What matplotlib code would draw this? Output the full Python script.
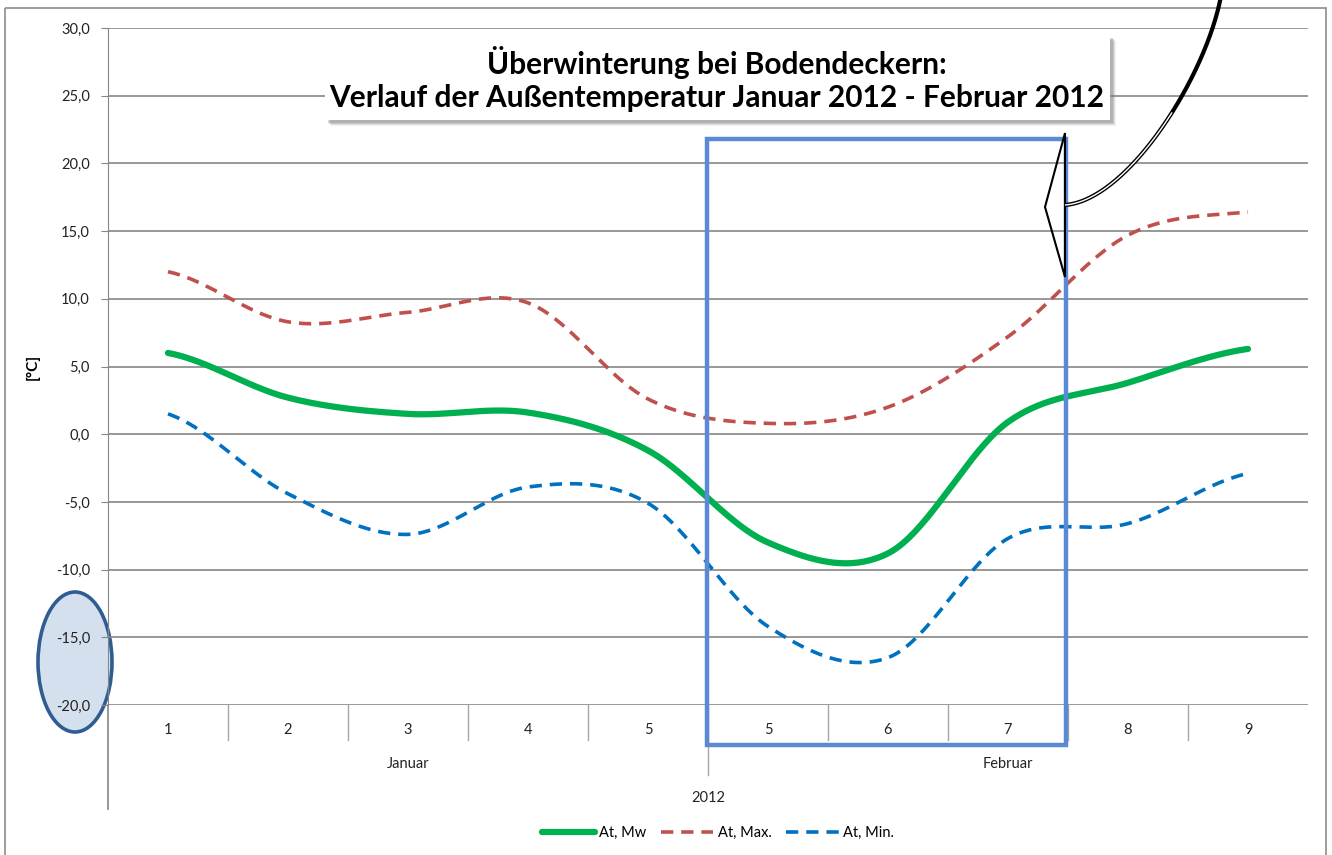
import numpy as np
import matplotlib
matplotlib.use("Agg")
import matplotlib.pyplot as plt
import matplotlib.transforms as mtransforms
from matplotlib.patches import Rectangle, Ellipse, Polygon
from matplotlib.ticker import FuncFormatter, MultipleLocator

plt.rcParams['font.family'] = ['Lato', 'DejaVu Sans']

# Wochen (Kategorien) und Temperaturen in °C
wochen = ["1", "2", "3", "4", "5", "5", "6", "7", "8", "9"]
monate = ["Januar", "Februar"]
jahr = "2012"
at_mw = [6.0, 2.7, 1.5, 1.6, -1.2, -8.0, -8.8, 0.9, 3.8, 6.3]
at_max = [12.0, 8.3, 9.0, 9.7, 2.6, 0.8, 2.0, 7.2, 14.7, 16.4]
at_min = [1.5, -4.4, -7.4, -3.9, -5.1, -14.2, -16.5, -7.7, -6.6, -2.9]


def glatt(werte, n=40):
    # geglättete Linie wie in Excel (Catmull-Rom / Bezier)
    y = np.asarray(werte, dtype=float)
    p = np.concatenate([[y[0]], y, [y[-1]]])
    xs, ys = [], []
    for i in range(len(y) - 1):
        m0 = (p[i + 2] - p[i]) / 2
        m1 = (p[i + 3] - p[i + 1]) / 2
        t = np.linspace(0, 1, n, endpoint=(i == len(y) - 2))
        h00 = 2 * t**3 - 3 * t**2 + 1
        h10 = t**3 - 2 * t**2 + t
        h01 = -2 * t**3 + 3 * t**2
        h11 = t**3 - t**2
        xs.append(i + t)
        ys.append(h00 * y[i] + h10 * m0 + h01 * y[i + 1] + h11 * m1)
    return np.concatenate(xs), np.concatenate(ys)


def bezier(p0, p1, p2, p3, t):
    t = np.asarray(t)[:, None]
    p0, p1, p2, p3 = (np.array(p, dtype=float) for p in (p0, p1, p2, p3))
    return ((1 - t)**3 * p0 + 3 * (1 - t)**2 * t * p1
            + 3 * (1 - t) * t**2 * p2 + t**3 * p3)


W, H = 1332, 855
fig = plt.figure(figsize=(W / 100, H / 100), dpi=100)

# hintere Zeichenebene in Pixeln (Rahmen, Ellipse)
hinten = fig.add_axes([0, 0, 1, 1], zorder=-1)
hinten.set_xlim(0, W)
hinten.set_ylim(H, 0)
hinten.axis('off')
hinten.add_patch(Rectangle((4.5, 8), 1321.5, 860, fill=False, ec='#8c8c8c', lw=1.2, clip_on=False))
hinten.add_patch(Ellipse((75, 662), 74, 140, fc='#d5e0ef', ec='#2f5d92', lw=2.6))

ax = fig.add_axes([108 / W, 1 - 705 / H, 1200 / W, 677 / H])
ax.patch.set_alpha(0)

gitter = '#868686'
ax.set_xlim(-0.5, len(wochen) - 0.5)
ax.set_ylim(-20, 30)
ax.yaxis.set_major_locator(MultipleLocator(5))
ax.yaxis.set_major_formatter(FuncFormatter(lambda v, p: f"{v:.1f}".replace('.', ',')))
ax.grid(axis='y', color=gitter, lw=1.2)
ax.set_axisbelow(True)
for s in ['top', 'right', 'bottom']:
    ax.spines[s].set_visible(False)
ax.spines['left'].set_color(gitter)
ax.spines['left'].set_bounds(-20, 30)
ax.tick_params(axis='y', length=5, color=gitter, labelsize=10.5, pad=8, labelcolor='#222222')
ax.set_xticks(range(len(wochen)))
ax.set_xticklabels(wochen)
ax.tick_params(axis='x', length=0, labelsize=10.5, pad=13, labelcolor='#222222')

ax.set_ylabel("[°C]", fontsize=11, fontweight='bold')
ax.yaxis.set_label_coords(-68 / 1200, 0.5)

x, y = glatt(at_mw)
l_mw, = ax.plot(x, y, color='#00b050', lw=4.5, solid_capstyle='round', label="At, Mw", zorder=3)
x, y = glatt(at_max)
l_max, = ax.plot(x, y, color='#c0504d', lw=2.6, dashes=(3.4, 2.2), label="At, Max.", zorder=3)
x, y = glatt(at_min)
l_min, = ax.plot(x, y, color='#0070c0', lw=2.6, dashes=(3.4, 2.2), label="At, Min.", zorder=3)

# mehrstufige Kategorienachse
trans = mtransforms.blended_transform_factory(ax.transData, ax.transAxes)
for i in range(1, len(wochen)):
    unten = -70 / 677 if i == 5 else -35 / 677
    ax.plot([i - 0.5, i - 0.5], [0, unten], transform=trans, color='#a6a6a6', lw=1, clip_on=False)
ax.plot([-0.5, -0.5], [0, -104 / 677], transform=trans, color=gitter, lw=1.2, clip_on=False)
ax.text(2, -59 / 677, monate[0], transform=trans, ha='center', va='center', fontsize=10.5, color='#222222')
ax.text(7, -59 / 677, monate[1], transform=trans, ha='center', va='center', fontsize=10.5, color='#222222')
ax.text(4.5, -93 / 677, jahr, transform=trans, ha='center', va='center', fontsize=10.5, color='#222222')

# Markierung Zeitraum Woche 5 bis 7
ax.add_patch(Rectangle((4.49, -22.95), 2.99, 44.75, fill=False, ec='#5a8ad6', lw=3.2,
                       clip_on=False, zorder=5))

fig.legend(handles=[l_mw, l_max, l_min], loc='center', bbox_to_anchor=(718 / W, 1 - 833 / H),
           ncol=3, frameon=False, fontsize=10.5, handlelength=3.6, handletextpad=0.3,
           columnspacing=1.0)

# vordere Zeichenebene in Pixeln (Titelkasten, Pfeil)
ov = fig.add_axes([0, 0, 1, 1], zorder=10)
ov.set_xlim(0, W)
ov.set_ylim(H, 0)
ov.axis('off')
ov.patch.set_alpha(0)

for k, a in [(6, 0.10), (5, 0.15), (4, 0.25), (3, 0.3)]:
    ov.add_patch(Rectangle((325 + k, 35 + k), 785, 85, fc='#7f7f7f', ec='none', alpha=a))
ov.add_patch(Rectangle((325, 35), 785, 85, fc='white', ec='none'))
ov.text(717, 79, "Überwinterung bei Bodendeckern:\nVerlauf der Außentemperatur Januar 2012 - Februar 2012",
        ha='center', va='center', fontsize=21.5, fontweight='bold', linespacing=1.25)

# Pfeil mit gebogenem Schaft
kp = [(1065, 205), (1130, 200), (1210, 70), (1222, -10)]
kurve = bezier(*kp, np.linspace(0, 1, 200))
ov.plot(kurve[:, 0], kurve[:, 1], color='black', lw=3.0, solid_capstyle='butt')
innen = bezier(*kp, np.linspace(0, 0.55, 120))
ov.plot(innen[:, 0], innen[:, 1], color='white', lw=1.0, solid_capstyle='butt')
ov.add_patch(Polygon([(1065, 133), (1045, 207), (1065, 277)], closed=True, fc='none',
                     ec='black', lw=1.5))

fig.savefig("out.png", dpi=100)
